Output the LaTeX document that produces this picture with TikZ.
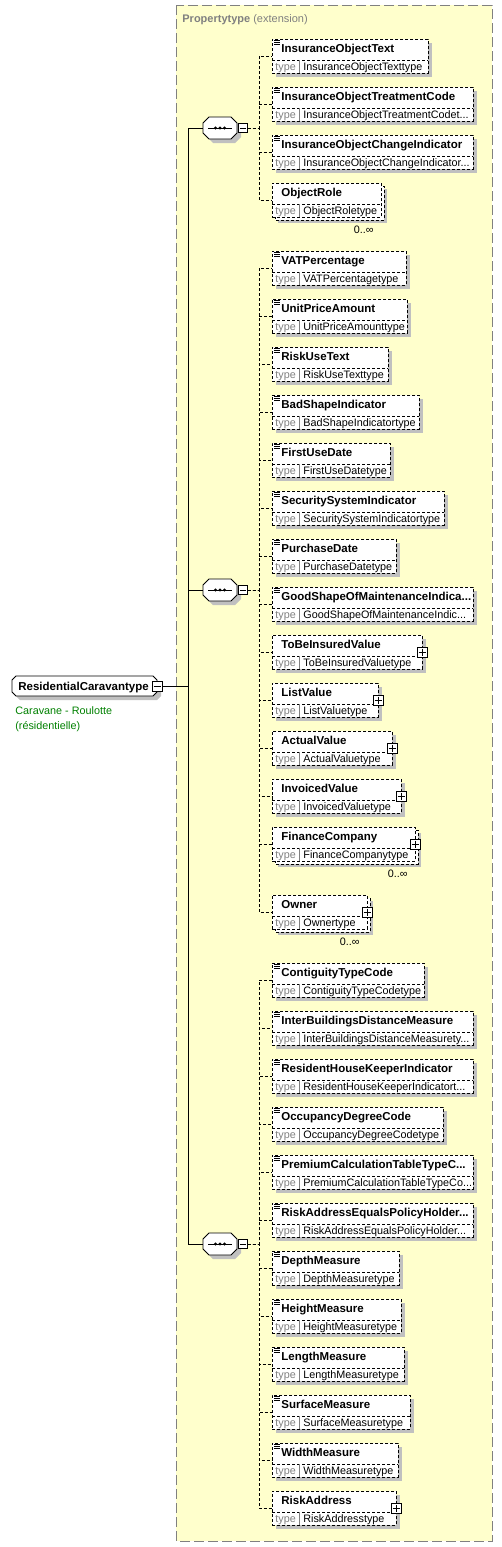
\documentclass[tikz,border=0pt]{standalone}
\usepackage{fontspec}
\setmainfont{Liberation Sans}
\usetikzlibrary{calc}
\definecolor{panel}{RGB}{255,255,204}
\definecolor{shd}{RGB}{192,192,192}
\definecolor{grn}{RGB}{0,128,0}
\definecolor{gtxt}{RGB}{128,128,128}
\newcommand\ddd{...}
\newcommand\nmfont{\fontsize{11.5}{13}\selectfont\bfseries}
\newcommand\tyfont{\fontsize{10.8}{12}\selectfont}
\newcommand\octpath[5]{(#1+#5,#2) -- (#3-#5,#2) -- (#3,#2+#5) -- (#3,#4-#5) -- (#3-#5,#4) -- (#1+#5,#4) -- (#1,#4-#5) -- (#1,#2+#5) -- cycle}
\begin{document}
\begin{tikzpicture}[x=1pt,y=-1pt,line width=0.8pt,
  elbox/.style={draw,dash pattern=on 3pt off 2pt,fill=white,inner sep=0pt,anchor=north west,minimum height=34pt},
  conn/.style={dash pattern=on 3pt off 2pt},
  lbl/.style={anchor=base west,inner sep=0pt},
  pmbox/.style={draw,solid,fill=white,inner sep=0pt,minimum size=10pt,line width=0.8pt},
  hidden/.style={inner sep=0pt,minimum width=34pt,minimum height=22pt}]
\useasboundingbox (0,0) rectangle (502,1547);
% panel
\draw[gtxt,dash pattern=on 10pt off 4pt,fill=panel] (176,5) rectangle (492,1541);
\node[lbl,text=gtxt,font=\fontsize{11}{13}\selectfont] (hdr) at (182,22) {{\bfseries Propertytype} (extension)};
% root
\fill[shd] \octpath{16}{680}{161}{700}{4};
\filldraw[fill=white] \octpath{12}{676}{157}{696}{4};
\node[lbl,font=\nmfont] (root) at (18,690) {ResidentialCaravantype};
\node[pmbox] (rootm) at (157,686) {};
\draw (153.5,686) -- (160.5,686);
\node[lbl,text=grn,font=\tyfont] (doc1) at (15,714) {Caravane - Roulotte};
\node[lbl,text=grn,font=\tyfont] (doc2) at (15,729) {(résidentielle)};
% compositors
\foreach \g/\Y in {1/128,2/590,3/1244}{
  \fill[shd] \octpath{207}{\Y-7}{241}{\Y+15}{6};
  \filldraw[fill=white] \octpath{203}{\Y-11}{237}{\Y+11}{6};
  \node[hidden] (g\g) at (220,\Y) {};
  \draw (208,\Y) -- (232,\Y);
  \fill (215.5,\Y) circle (1.7) (220,\Y) circle (1.7) (224.5,\Y) circle (1.7);
  \node[pmbox,minimum size=9pt] (g\g m) at (243,\Y) {};
  \draw (240,\Y) -- (246,\Y);
  \draw (rootm.east) -- ++(26,0) |- (g\g.west);
}
% elements
\foreach \i/\g/\T/\R/\ti/\ty/\eq/\pl/\mu in {
 a1/1/39/428/InsuranceObjectText/InsuranceObjectTexttype/1/0/0,
 a2/1/87/473/InsuranceObjectTreatmentCode/InsuranceObjectTreatmentCodet\ddd/1/0/0,
 a3/1/135/473/InsuranceObjectChangeIndicator/InsuranceObjectChangeIndicator\ddd/1/0/0,
 a4/1/183/381/ObjectRole/ObjectRoletype/0/0/1,
 b1/2/251/406/VATPercentage/VATPercentagetype/1/0/0,
 b2/2/299/407/UnitPriceAmount/UnitPriceAmounttype/1/0/0,
 b3/2/347/388/RiskUseText/RiskUseTexttype/1/0/0,
 b4/2/395/419/BadShapeIndicator/BadShapeIndicatortype/1/0/0,
 b5/2/443/390/FirstUseDate/FirstUseDatetype/1/0/0,
 b6/2/491/444/SecuritySystemIndicator/SecuritySystemIndicatortype/1/0/0,
 b7/2/539/396/PurchaseDate/PurchaseDatetype/1/0/0,
 b8/2/587/473/GoodShapeOfMaintenanceIndica\ddd/GoodShapeOfMaintenanceIndic\ddd/1/0/0,
 b9/2/635/422/ToBeInsuredValue/ToBeInsuredValuetype/0/1/0,
 b10/2/683/378/ListValue/ListValuetype/0/1/0,
 b11/2/731/392/ActualValue/ActualValuetype/0/1/0,
 b12/2/779/401/InvoicedValue/InvoicedValuetype/0/1/0,
 b13/2/827/415/FinanceCompany/FinanceCompanytype/0/1/1,
 b14/2/895/367/Owner/Ownertype/0/1/1,
 c1/3/963/424/ContiguityTypeCode/ContiguityTypeCodetype/1/0/0,
 c2/3/1011/473/InterBuildingsDistanceMeasure/InterBuildingsDistanceMeasurety\ddd/1/0/0,
 c3/3/1059/473/ResidentHouseKeeperIndicator/ResidentHouseKeeperIndicatort\ddd/1/0/0,
 c4/3/1107/443/OccupancyDegreeCode/OccupancyDegreeCodetype/1/0/0,
 c5/3/1155/473/PremiumCalculationTableTypeC\ddd/PremiumCalculationTableTypeCo\ddd/1/0/0,
 c6/3/1203/473/RiskAddressEqualsPolicyHolder\ddd/RiskAddressEqualsPolicyHolder\ddd/1/0/0,
 c7/3/1251/399/DepthMeasure/DepthMeasuretype/1/0/0,
 c8/3/1299/401/HeightMeasure/HeightMeasuretype/1/0/0,
 c9/3/1347/404/LengthMeasure/LengthMeasuretype/1/0/0,
 c10/3/1395/410/SurfaceMeasure/SurfaceMeasuretype/1/0/0,
 c11/3/1443/398/WidthMeasure/WidthMeasuretype/1/0/0,
 c12/3/1491/396/RiskAddress/RiskAddresstype/0/1/0}{
  \ifnum\mu=1
    \fill[shd] (278,\T+6) rectangle (\R+6,\T+40);
    \draw[conn,fill=white] (275,\T+3) rectangle (\R+3,\T+37);
  \else
    \fill[shd] (276,\T+4) rectangle (\R+4,\T+38);
  \fi
  \node[elbox,minimum width={\R-272}] (\i) at (272,\T) {};
  \draw[conn] (272,\T+21) -- (\R,\T+21);
  \draw[gtxt,line width=0.6pt] (299,\T+21) -- (299,\T+34);
  \node[lbl,font=\nmfont] (\i n) at (281,\T+13.5) {\ti};
  \node[lbl,font=\tyfont,text=gtxt] (\i k) at (275,\T+31) {type};
  \node[lbl,font=\tyfont] (\i t) at (303,\T+31) {\ty};
  \ifnum\eq=1
    \draw[line width=0.5pt] (274,\T+1.5) -- (279.5,\T+1.5) (274,\T+3.2) -- (279.5,\T+3.2) (274,\T+4.9) -- (279.5,\T+4.9);
  \fi
  \ifnum\pl=1
    \node[pmbox] (\i p) at (\R,\T+17) {};
    \draw (\R-3.5,\T+17) -- (\R+3.5,\T+17) (\R,\T+13.5) -- (\R,\T+20.5);
  \fi
  \ifnum\mu=1
    \node[anchor=base east,inner sep=0pt,font=\tyfont] (\i m) at (\R-7,\T+50) {0..∞};
  \fi
  \draw[conn] (g\g m.east) -- ++(11,0) |- (\i.west);
}
\end{tikzpicture}
\end{document}
